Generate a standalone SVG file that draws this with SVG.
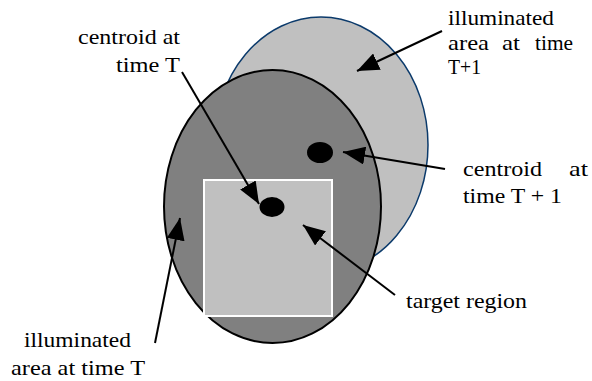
<svg xmlns="http://www.w3.org/2000/svg" width="592" height="381" viewBox="0 0 592 381">
  <style>
    text { font-family: "Times New Roman", Times, "Liberation Serif", Tinos, "Noto Serif", serif; font-size: 22px; fill: #000; }
    .conn { stroke: #000; stroke-width: 2; fill: none; }
  </style>
  <defs>
    <marker id="tri" viewBox="0 0 22 18" refX="22" refY="9" markerWidth="22" markerHeight="18" markerUnits="userSpaceOnUse" orient="auto">
      <path d="M0,0 L22,9 L0,18 Z" fill="#000"/>
    </marker>
  </defs>

  <!-- illuminated area at time T+1 -->
  <g id="area-t1">
    <ellipse cx="321" cy="145" rx="107" ry="128" fill="#c0c0c0" stroke="#0b3a6b" stroke-width="1.5"/>
  </g>

  <!-- illuminated area at time T -->
  <g id="area-t">
    <ellipse cx="272.5" cy="206.5" rx="108.5" ry="136.5" fill="#808080" stroke="#000" stroke-width="2"/>
  </g>

  <!-- target region -->
  <g id="target">
    <rect x="204" y="180" width="128" height="136" fill="#c0c0c0" stroke="#fff" stroke-width="2"/>
  </g>

  <!-- centroids -->
  <g id="centroid-t">
    <ellipse cx="272" cy="207" rx="12.5" ry="10" fill="#000"/>
  </g>
  <g id="centroid-t1">
    <ellipse cx="320" cy="152.5" rx="13" ry="10.5" fill="#000"/>
  </g>

  <!-- connectors -->
  <g id="connectors">
    <line class="conn" x1="182" y1="72" x2="259" y2="204" marker-end="url(#tri)"/>
    <line class="conn" x1="442" y1="31" x2="357" y2="71" marker-end="url(#tri)"/>
    <line class="conn" x1="445" y1="169" x2="343" y2="152" marker-end="url(#tri)"/>
    <line class="conn" x1="155" y1="343" x2="180" y2="218" marker-end="url(#tri)"/>
    <line class="conn" x1="395" y1="295" x2="303" y2="225" marker-end="url(#tri)"/>
  </g>

  <!-- labels -->
  <g id="labels">
    <text x="180" y="44" text-anchor="end" textLength="102" lengthAdjust="spacingAndGlyphs">centroid at</text>
    <text x="180" y="72" text-anchor="end" textLength="64" lengthAdjust="spacingAndGlyphs">time T</text>

    <text x="448" y="25" textLength="106" lengthAdjust="spacingAndGlyphs">illuminated</text>
    <text x="448" y="50" textLength="41" lengthAdjust="spacingAndGlyphs">area</text>
    <text x="502" y="50" textLength="18" lengthAdjust="spacingAndGlyphs">at</text>
    <text x="535" y="50" textLength="38" lengthAdjust="spacingAndGlyphs">time</text>
    <text x="448" y="74" textLength="33" lengthAdjust="spacingAndGlyphs">T+1</text>

    <text x="463" y="176" textLength="79" lengthAdjust="spacingAndGlyphs">centroid</text>
    <text x="569" y="176" textLength="19" lengthAdjust="spacingAndGlyphs">at</text>
    <text x="463" y="203" textLength="99" lengthAdjust="spacingAndGlyphs">time T + 1</text>

    <text x="406" y="308" textLength="121" lengthAdjust="spacingAndGlyphs">target region</text>

    <text x="24" y="347" textLength="107" lengthAdjust="spacingAndGlyphs">illuminated</text>
    <text x="11" y="375" textLength="134" lengthAdjust="spacingAndGlyphs">area at time T</text>
  </g>
</svg>
